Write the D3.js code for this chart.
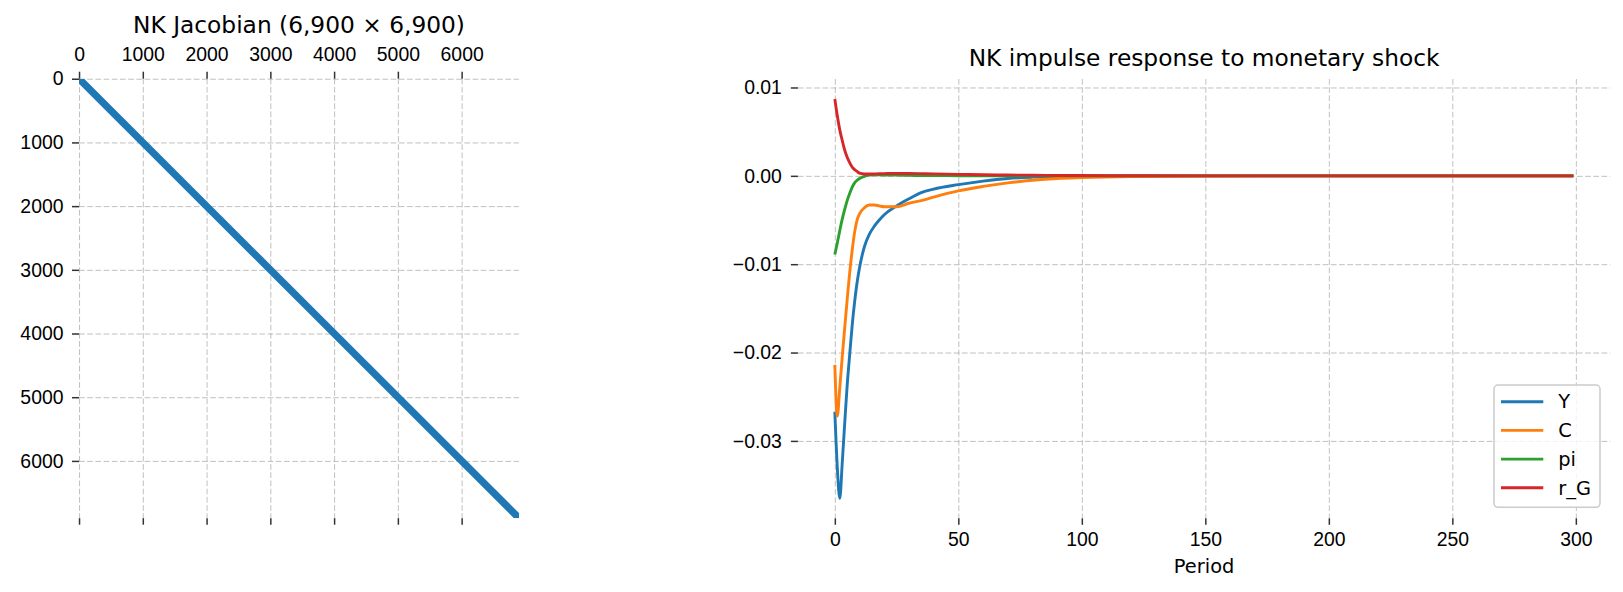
<!DOCTYPE html>
<meta charset="utf-8">
<style>

body {
  margin: 0;
  background: #fff;
}

svg {
  display: block;
  font-family: "DejaVu Sans", sans-serif;
}

.grid path,
.axis path {
  display: none;
}

.grid line {
  stroke: #b0b0b0;
  stroke-width: 0.8px;
  stroke-dasharray: 5.7, 2.5;
}

.axis line {
  stroke: #333;
  stroke-width: 1.5px;
}

.axis text,
.legend text {
  font-size: 19.4px;
  fill: #000;
}

.title {
  font-size: 23.3px;
  fill: #000;
  text-anchor: middle;
}

.line {
  fill: none;
  stroke-width: 2.9px;
  stroke-linejoin: round;
}

</style>
<svg width="1623" height="592"></svg>
<script src="https://d3js.org/d3.v7.min.js"></script>
<script>

// --- Jacobian (left panel) ---
var jacSize = 6900;
var jacTicks = [0, 1000, 2000, 3000, 4000, 5000, 6000];
var jacBandHalfWidth = 80;   // nonzeros lie within this many columns of the diagonal

// --- impulse responses (right panel) ---
var periods = [0, 1, 2, 3, 4, 5, 6, 7, 8, 9, 10, 12, 14, 16, 18, 20, 25, 30, 35, 40,
               50, 60, 70, 80, 90, 100, 120, 150, 200, 250, 299];
var seriesNames = ["Y", "C", "pi", "r_G"];
var seriesColors = ["#1f77b4", "#ff7f0e", "#2ca02c", "#d62728"];

var Y = [-0.0267, -0.0330, -0.0365, -0.0325, -0.0280, -0.0237, -0.0203, -0.0170, -0.0143, -0.0121,
         -0.0104, -0.0080, -0.0066, -0.0057, -0.0050, -0.0044, -0.0034, -0.0026, -0.0019, -0.0015,
         -0.0010, -0.0006, -0.0003, -0.00015, -0.00007, -0.00003, -0.00001, 0, 0, 0, 0];
var C = [-0.0214, -0.0272, -0.0240, -0.0205, -0.0172, -0.0140, -0.0110, -0.0085, -0.0064, -0.0050,
         -0.0043, -0.0036, -0.0033, -0.0033, -0.0034, -0.0035, -0.0035, -0.0031, -0.0028, -0.0024,
         -0.0017, -0.0012, -0.0008, -0.0005, -0.0003, -0.0002, -0.00008, -0.00002, 0, 0, 0];
var pi = [-0.0089, -0.0076, -0.0062, -0.0049, -0.0038, -0.0028, -0.0020, -0.0013, -0.0008, -0.0005,
          -0.0003, -0.00005, 0.0001, 0.00012, 0.00011, 0.0001, 0.00008, 0.00005, 0.00004, 0.00003,
          0.00001, 0, 0, 0, 0, 0, 0, 0, 0, 0, 0];
var r_G = [0.0087, 0.0068, 0.0052, 0.0040, 0.0029, 0.0021, 0.0015, 0.0010, 0.0007, 0.0005,
           0.0003, 0.0002, 0.0002, 0.00022, 0.00024, 0.00025, 0.00027, 0.00027, 0.00025, 0.00022,
           0.00017, 0.00012, 0.00009, 0.00006, 0.00004, 0.00003, 0.00001, 0, 0, 0, 0];

var irfTicksX = [0, 50, 100, 150, 200, 250, 300];
var irfTicksY = [0.01, 0, -0.01, -0.02, -0.03];

var svg = d3.select("svg");

// ===== left: spy plot =====
var jac = {left: 79, right: 519, top: 78.7, bottom: 518.2};

var jx = d3.scaleLinear().domain([-0.5, jacSize - 0.5]).range([jac.left, jac.right]),
    jy = d3.scaleLinear().domain([-0.5, jacSize - 0.5]).range([jac.top, jac.bottom]);

var gl = svg.append("g");

gl.append("g")
    .attr("class", "grid")
    .attr("transform", "translate(0," + jac.top + ")")
    .call(d3.axisTop(jx).tickValues(jacTicks).tickSize(-(jac.bottom - jac.top)).tickFormat(""));

gl.append("g")
    .attr("class", "grid")
    .attr("transform", "translate(" + jac.left + ",0)")
    .call(d3.axisLeft(jy).tickValues(jacTicks).tickSize(-(jac.right - jac.left)).tickFormat(""));

gl.append("clipPath")
    .attr("id", "jacclip")
  .append("rect")
    .attr("x", jac.left)
    .attr("y", jac.top)
    .attr("width", jac.right - jac.left)
    .attr("height", jac.bottom - jac.top);

var n = jacSize - 0.5, b = jacBandHalfWidth;
var band = [[-0.5, -0.5], [b, -0.5], [n, n - b], [n, n], [n - b, n], [-0.5, b]];

gl.append("path")
    .attr("clip-path", "url(#jacclip)")
    .attr("d", d3.line().x(function(d) { return jx(d[0]); }).y(function(d) { return jy(d[1]); })(band) + "Z")
    .attr("fill", "#1f77b4");

gl.append("g")
    .attr("class", "axis")
    .attr("transform", "translate(0," + jac.top + ")")
    .call(d3.axisTop(jx).tickValues(jacTicks).tickSize(7).tickPadding(11).tickFormat(d3.format("d")));

gl.append("g")
    .attr("class", "axis")
    .attr("transform", "translate(0," + jac.bottom + ")")
    .call(d3.axisBottom(jx).tickValues(jacTicks).tickSize(6.5).tickFormat(""));

gl.append("g")
    .attr("class", "axis")
    .attr("transform", "translate(" + jac.left + ",0)")
    .call(d3.axisLeft(jy).tickValues(jacTicks).tickSize(7).tickPadding(8.5).tickFormat(d3.format("d")));

gl.append("text")
    .attr("class", "title")
    .attr("x", (jac.left + jac.right) / 2)
    .attr("y", 33.3)
    .text("NK Jacobian (6,900 \u00d7 6,900)");

// ===== right: impulse responses =====
var irf = {left: 797.9, right: 1610.3, top: 79, bottom: 518.3};

var tMax = d3.max(periods);
var x = d3.scaleLinear().domain([-0.05 * tMax, tMax * 1.05]).range([irf.left, irf.right]);

var allValues = Y.concat(C, pi, r_G),
    lo = d3.min(allValues),
    hi = d3.max(allValues),
    pad = (hi - lo) * 0.05;
var y = d3.scaleLinear().domain([lo - pad, hi + pad]).range([irf.bottom, irf.top]);

var gr = svg.append("g");

gr.append("g")
    .attr("class", "grid")
    .attr("transform", "translate(0," + irf.top + ")")
    .call(d3.axisTop(x).tickValues(irfTicksX).tickSize(-(irf.bottom - irf.top)).tickFormat(""));

gr.append("g")
    .attr("class", "grid")
    .attr("transform", "translate(" + irf.left + ",0)")
    .call(d3.axisLeft(y).tickValues(irfTicksY).tickSize(-(irf.right - irf.left)).tickFormat(""));

gr.append("g")
    .attr("class", "axis")
    .attr("transform", "translate(0," + irf.bottom + ")")
    .call(d3.axisBottom(x).tickValues(irfTicksX).tickSize(6.5).tickPadding(7.5).tickFormat(d3.format("d")));

gr.append("g")
    .attr("class", "axis")
    .attr("transform", "translate(" + irf.left + ",0)")
    .call(d3.axisLeft(y).tickValues(irfTicksY).tickSize(7).tickPadding(9).tickFormat(d3.format(".2f")));

var seriesValues = [Y, C, pi, r_G];
var series = seriesNames.map(function(name, i) {
  return {
    id: name,
    color: seriesColors[i],
    values: periods.map(function(t, j) { return {t: t, v: seriesValues[i][j]}; })
  };
});

var line = d3.line()
    .curve(d3.curveMonotoneX)
    .x(function(d) { return x(d.t); })
    .y(function(d) { return y(d.v); });

gr.selectAll(".line")
  .data(series)
  .enter().append("path")
    .attr("class", "line")
    .attr("d", function(d) { return line(d.values); })
    .style("stroke", function(d) { return d.color; });

gr.append("text")
    .attr("class", "title")
    .attr("x", (irf.left + irf.right) / 2)
    .attr("y", 65.7)
    .text("NK impulse response to monetary shock");

gr.append("text")
    .attr("x", (irf.left + irf.right) / 2)
    .attr("y", 573)
    .attr("text-anchor", "middle")
    .style("font-size", "19.4px")
    .text("Period");

// legend
var legend = gr.append("g").attr("class", "legend");

legend.append("rect")
    .attr("x", 1494)
    .attr("y", 385)
    .attr("width", 106)
    .attr("height", 122.3)
    .attr("rx", 4)
    .attr("fill", "#fff")
    .attr("fill-opacity", 0.8)
    .attr("stroke", "#cccccc")
    .attr("stroke-width", 1.5);

var item = legend.selectAll(".item")
  .data(series)
  .enter().append("g")
    .attr("class", "item")
    .attr("transform", function(d, i) { return "translate(1501," + (401.7 + i * 28.7) + ")"; });

item.append("line")
    .attr("x1", 0)
    .attr("x2", 42.3)
    .attr("stroke", function(d) { return d.color; })
    .attr("stroke-width", 2.9);

item.append("text")
    .attr("x", 57.3)
    .attr("dy", "0.35em")
    .text(function(d) { return d.id; });

</script>
